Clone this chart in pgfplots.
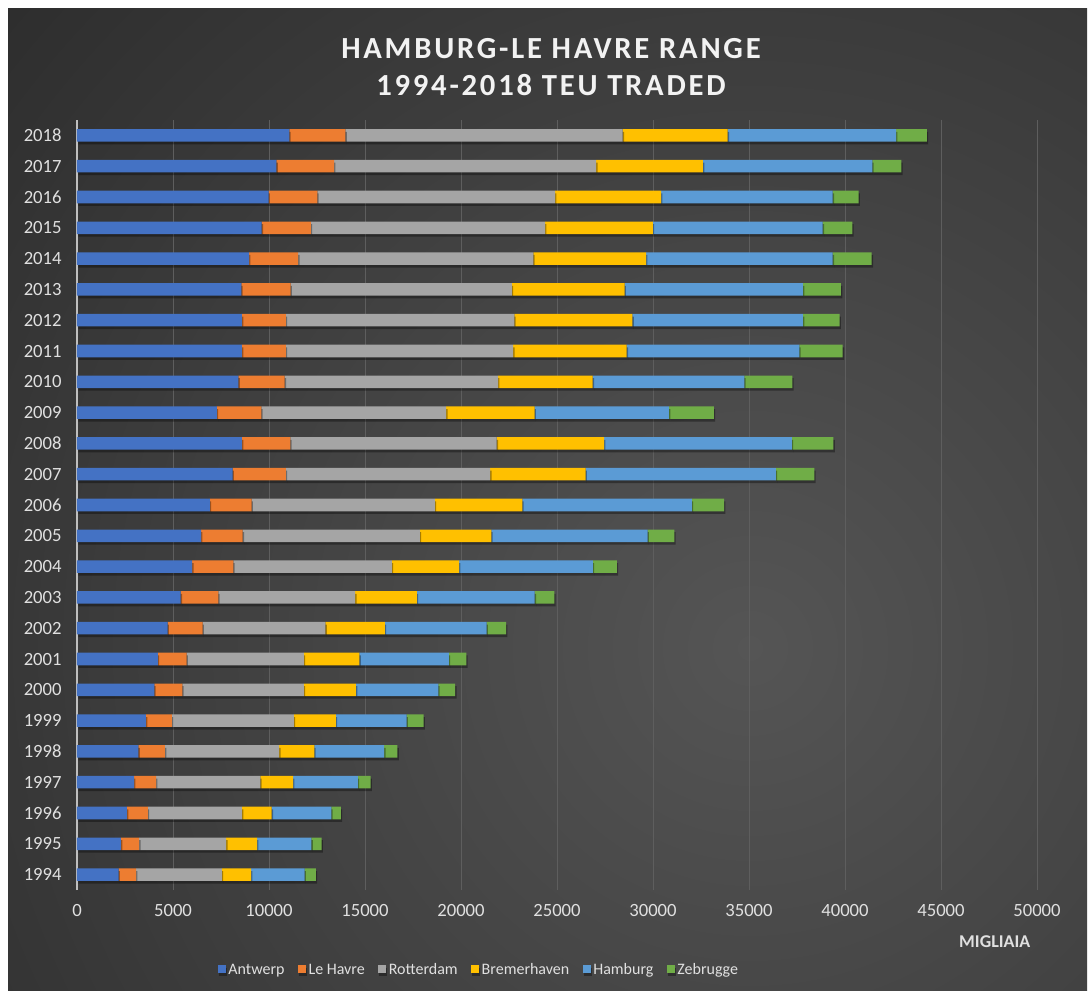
\documentclass[border=0pt]{standalone}
\usepackage{pgfplots}
\usepackage{pgfplotstable}
\pgfplotsset{compat=1.18}
\usepackage{fontspec}
\setmainfont{Carlito}
\newfontfamily\titlefont[LetterSpace=9]{Carlito}
\definecolor{cA}{HTML}{4472C4}
\definecolor{cL}{HTML}{ED7D31}
\definecolor{cR}{HTML}{A5A5A5}
\definecolor{cB}{HTML}{FFC000}
\definecolor{cH}{HTML}{5B9BD5}
\definecolor{cZ}{HTML}{70AD47}
\definecolor{bgin}{HTML}{555555}
\definecolor{bgout}{HTML}{252525}
\definecolor{txt}{HTML}{E0E0E0}
\definecolor{gridc}{HTML}{5E5E5E}
\definecolor{axc}{HTML}{BFBFBF}

\pgfplotstableread{
year A L R B H Z
1994 2170 910 4460 1530 2780 590
1995 2290 950 4530 1610 2830 530
1996 2600 1090 4900 1550 3110 490
1997 2970 1150 5430 1700 3380 660
1998 3200 1380 5950 1830 3640 690
1999 3590 1350 6350 2190 3690 880
2000 4030 1460 6320 2720 4290 880
2001 4210 1500 6100 2900 4660 910
2002 4720 1820 6400 3090 5300 1020
2003 5400 1960 7130 3210 6140 1020
2004 6000 2140 8260 3500 6970 1250
2005 6460 2170 9230 3720 8140 1390
2006 6920 2170 9550 4550 8830 1680
2007 8100 2780 10640 4970 9910 2000
2008 8590 2520 10750 5590 9780 2170
2009 7280 2320 9630 4600 7000 2340
2010 8410 2410 11110 4930 7900 2500
2011 8590 2290 11840 5910 8990 2260
2012 8590 2290 11900 6150 8880 1910
2013 8560 2560 11530 5870 9290 1980
2014 8960 2560 12250 5870 9720 2030
2015 9620 2560 12200 5610 8850 1540
2016 9980 2540 12380 5520 8940 1350
2017 10390 3000 13650 5560 8820 1510
2018 11060 2920 14440 5470 8770 1600
}\teu

\begin{document}
\begin{tikzpicture}
% page and background
\fill[white] (0pt,0pt) rectangle (818.25pt,747.75pt);
\begin{scope}
\clip (6pt,5.25pt) rectangle (815.25pt,741pt);
\fill[bgout] (6pt,5.25pt) rectangle (815.25pt,741pt);
\shade[inner color=bgin, outer color=bgout] (562.5pt,261.75pt) circle (900pt);
\end{scope}
% title
\node[anchor=base, font=\titlefont\bfseries\fontsize{23pt}{27pt}\selectfont, text=white!95!black] at (413.25pt,703.5pt) {HAMBURG-LE HAVRE RANGE};
\node[anchor=base, font=\titlefont\bfseries\fontsize{23pt}{27pt}\selectfont, text=white!95!black] at (413.25pt,675.75pt) {1994-2018 TEU TRADED};

\begin{axis}[
  at={(57.75pt,80.25pt)}, anchor=south west,
  scale only axis, width=720pt, height=577.5pt,
  xbar stacked, bar width=9.4pt,
  xmin=0, xmax=50000, ymin=1993.5, ymax=2018.5,
  xtick={0,5000,...,50000}, ytick={1994,...,2018},
  scaled x ticks=false,
  axis y line*=left, axis x line*=bottom,
  x axis line style={draw=none},
  y axis line style={draw=axc, line width=1pt},
  major tick length=0pt,
  xmajorgrids, major grid style={draw=gridc, line width=0.75pt},
  tick label style={text=txt, font=\fontsize{14pt}{16pt}\selectfont,
    /pgf/number format/assume math mode=true, /pgf/number format/1000 sep={}},
  xticklabel style={yshift=-7pt},
  yticklabel style={xshift=-8pt},
  xlabel={MIGLIAIA},
  xlabel style={at={(axis description cs:0.956,-0.0675)}, anchor=center, font=\bfseries\fontsize{13.5pt}{16pt}\selectfont, text=txt},
  legend columns=6,
  legend style={at={(0.419,-0.104)}, anchor=center, draw=none, fill=none, text=txt,
    font=\fontsize{12pt}{14pt}\selectfont,
    /tikz/every even column/.append style={column sep=8pt}},
  legend image code/.code={\fill[#1, draw=none] (0pt,-2.2pt) rectangle (6pt,3.8pt);},
  every axis plot/.append style={draw=none,
    preaction={fill=black, fill opacity=0.35, draw=none, transform canvas={yshift=-2pt, xshift=1pt}}},
]
\addplot[fill=cA] table[x=A, y=year] {\teu};
\addplot[fill=cL] table[x=L, y=year] {\teu};
\addplot[fill=cR] table[x=R, y=year] {\teu};
\addplot[fill=cB] table[x=B, y=year] {\teu};
\addplot[fill=cH] table[x=H, y=year] {\teu};
\addplot[fill=cZ] table[x=Z, y=year] {\teu};
\legend{Antwerp, Le Havre, Rotterdam, Bremerhaven, Hamburg, Zebrugge}
\end{axis}
\end{tikzpicture}
\end{document}
